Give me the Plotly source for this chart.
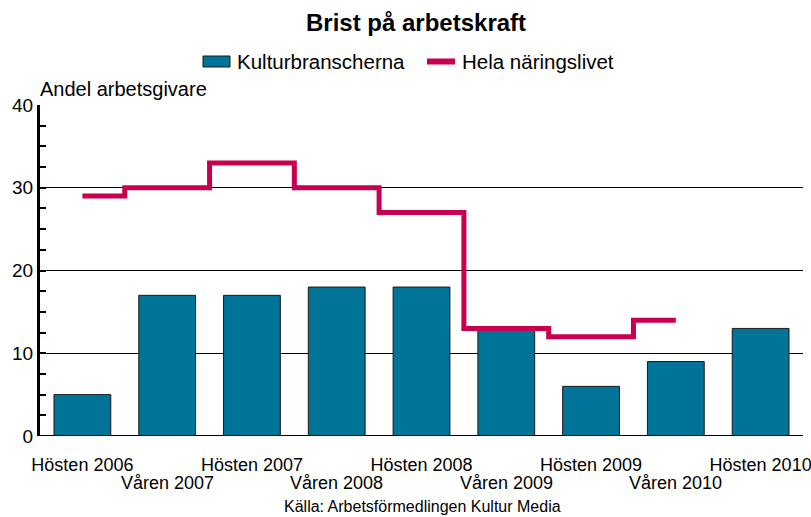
import plotly.graph_objects as go

categories = ["Hösten 2006", "Våren 2007", "Hösten 2007", "Våren 2008", "Hösten 2008",
              "Våren 2009", "Hösten 2009", "Våren 2010", "Hösten 2010"]
kultur = [5, 17, 17, 18, 18, 13, 6, 9, 13]
hela = [29, 30, 33, 30, 27, 13, 12, 14]
series_names = ["Kulturbranscherna", "Hela näringslivet"]
y_ticks = [0, 10, 20, 30, 40]
y_minor = [2.5, 5, 7.5, 12.5, 15, 17.5, 22.5, 25, 27.5, 32.5, 35, 37.5]

FONT = "Liberation Sans, Arial, sans-serif"
BAR_COLOR = "#007399"
LINE_COLOR = "#c8004f"

x_idx = list(range(len(categories)))

# plot area in pixels: left 40, right 803, top 105, bottom 436
L, R, T, B = 40, 803, 105, 436
W, H = R - L, B - T


def px(xp):
    return (xp - L) / W


def py(yp):
    return (B - yp) / H


fig = go.Figure()
fig.add_trace(go.Bar(
    x=x_idx, y=kultur, name=series_names[0],
    marker=dict(color=BAR_COLOR, line=dict(color="#1a1a1a", width=1)),
))
fig.add_trace(go.Scatter(
    x=x_idx[:len(hela)], y=hela, name=series_names[1], mode="lines",
    line=dict(color=LINE_COLOR, width=5, shape="hvh"),
))

annotations = [
    dict(text="<b>Brist på arbetskraft</b>", xref="paper", yref="paper",
         x=px(416), y=py(22), xanchor="center", yanchor="middle", showarrow=False,
         font=dict(size=24)),
    dict(text=series_names[0], xref="paper", yref="paper", x=px(235), y=py(61),
         xanchor="left", yanchor="middle", showarrow=False, font=dict(size=20.5)),
    dict(text=series_names[1], xref="paper", yref="paper", x=px(460), y=py(61),
         xanchor="left", yanchor="middle", showarrow=False, font=dict(size=20.5)),
    dict(text="Andel arbetsgivare", xref="paper", yref="paper", x=px(38), y=1.0,
         xanchor="left", yanchor="bottom", yshift=3, showarrow=False,
         font=dict(size=20)),
    dict(text="Källa: Arbetsförmedlingen Kultur Media", xref="paper", yref="paper",
         x=px(422), y=py(507), xanchor="center", yanchor="middle",
         showarrow=False, font=dict(size=16)),
]
# second row of category labels (odd categories)
for i, c in enumerate(categories):
    if i % 2 == 1:
        annotations.append(dict(text=c, xref="x", yref="paper", x=i, y=py(483),
                                xanchor="center", yanchor="middle", showarrow=False,
                                font=dict(size=18)))

shapes = [
    # baseline at 0
    dict(type="line", xref="paper", yref="y", x0=0, x1=1, y0=0, y1=0,
         line=dict(color="black", width=2)),
    # legend symbols
    dict(type="rect", xref="paper", yref="paper", x0=px(203), x1=px(230),
         y0=py(67), y1=py(56), fillcolor=BAR_COLOR, line=dict(color="#1a1a1a", width=1)),
    dict(type="line", xref="paper", yref="paper", x0=px(427), x1=px(455),
         y0=py(61.5), y1=py(61.5), line=dict(color=LINE_COLOR, width=6)),
]

fig.update_layout(
    width=811, height=517,
    margin=dict(l=L, r=811 - R, t=T, b=517 - B),
    paper_bgcolor="white", plot_bgcolor="white",
    font=dict(family=FONT, size=18, color="black"),
    bargap=0.33,
    showlegend=False,
    hovermode=False,
    xaxis=dict(
        range=[-0.5, 8.5], tickmode="array", tickvals=x_idx[::2],
        ticktext=categories[::2], tickangle=0, automargin=False,
        ticklabeloverflow="allow", ticklabelstandoff=16,
        showgrid=False, zeroline=False, showline=False, ticks="",
        tickfont=dict(size=18),
    ),
    yaxis=dict(
        range=[0, 40], tickvals=y_ticks, showgrid=True, gridcolor="black",
        gridwidth=1.3, zeroline=False, showline=True, linecolor="black", linewidth=3,
        ticks="inside", ticklen=6, tickwidth=2, tickcolor="black", automargin=False,
        minor=dict(tickvals=y_minor, ticks="inside", ticklen=6, tickwidth=2,
                   tickcolor="black"),
        tickfont=dict(size=19),
    ),
    annotations=annotations,
    shapes=shapes,
)

fig.write_html("out.html", config={"displayModeBar": False},
               post_script="document.body.style.margin='0';")
